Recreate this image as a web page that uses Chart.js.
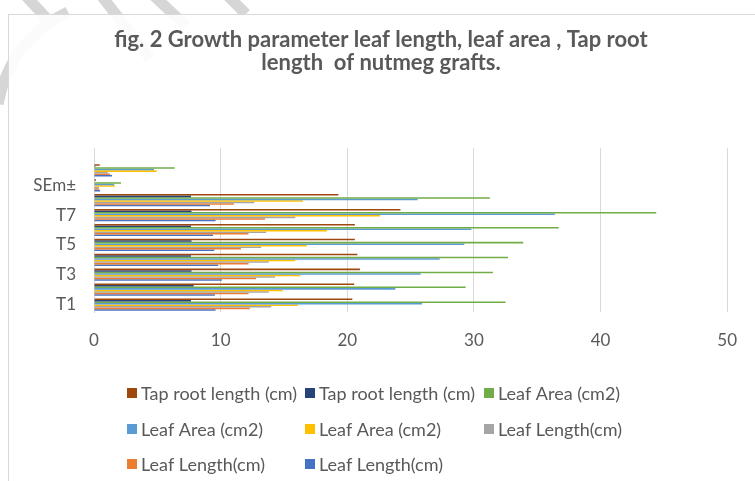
<!DOCTYPE html>
<html>
<head>
<meta charset="utf-8">
<script src="https://cdn.jsdelivr.net/npm/chart.js@4.4.1/dist/chart.umd.min.js"></script>
<style>
  html, body { margin: 0; padding: 0; background: #ffffff; overflow: hidden; }
  #wrap { position: absolute; left: 0; top: 0; width: 755px; height: 481px; }
</style>
</head>
<body>
<div id="wrap"><canvas id="c" width="755" height="481"></canvas></div>
<script>
// ---- data ----
const categories = ['T1', 'T2', 'T3', 'T4', 'T5', 'T6', 'T7', 'T8', 'SEm±', 'C.D. (5%)', ''];
const leafLength1 = [9.6, 9.55, 10.1, 9.8, 9.5, 9.4, 9.6, 9.16, 0.47, 1.42, null];
const leafLength2 = [12.3, 12.2, 12.8, 12.2, 11.6, 12.2, 13.5, 11.05, 0.39, 1.26, null];
const leafLength3 = [14.0, 13.8, 14.3, 13.8, 13.2, 13.6, 15.9, 12.66, 0.39, 1.08, null];
const leafArea1 = [16.1, 14.9, 16.3, 15.9, 16.8, 18.4, 22.6, 16.5, 1.65, 4.95, null];
const leafArea2 = [25.9, 23.8, 25.8, 27.3, 29.24, 29.8, 36.4, 25.56, 1.6, 4.74, null];
const leafArea3 = [32.5, 29.35, 31.5, 32.7, 33.9, 36.7, 44.4, 31.26, 2.13, 6.37, null];
const tapRoot1 = [7.66, 7.87, 7.7, 7.66, 7.7, 7.66, 7.7, 7.66, 0.05, 0.1, null];
const tapRoot2 = [20.4, 20.55, 21.0, 20.8, 20.6, 20.6, 24.2, 19.3, 0.16, 0.45, null];
const xTicks = [0, 10, 20, 30, 40, 50];
const titleLines = ['fig. 2 Growth parameter leaf length, leaf area , Tap root', 'length  of nutmeg grafts.'];

const TEXT = '#595959';
const FONT = 'Lato, "Open Sans", sans-serif';

const datasets = [
  { label: 'Tap root length (cm)', data: tapRoot2, backgroundColor: '#9E480E' },
  { label: 'Tap root length (cm)', data: tapRoot1, backgroundColor: '#264478' },
  { label: 'Leaf Area (cm2)', data: leafArea3, backgroundColor: '#70AD47' },
  { label: 'Leaf Area (cm2)', data: leafArea2, backgroundColor: '#5B9BD5' },
  { label: 'Leaf Area (cm2)', data: leafArea1, backgroundColor: '#FFC000' },
  { label: 'Leaf Length(cm)', data: leafLength3, backgroundColor: '#A5A5A5' },
  { label: 'Leaf Length(cm)', data: leafLength2, backgroundColor: '#ED7D31' },
  { label: 'Leaf Length(cm)', data: leafLength1, backgroundColor: '#4472C4' }
];

// background: faint watermark strokes, chart frame
const framePlugin = {
  id: 'frame',
  beforeDraw(chart) {
    const ctx = chart.ctx;
    ctx.save();
    ctx.strokeStyle = '#d6d6d6';
    ctx.lineCap = 'butt';
    ctx.lineWidth = 11;
    ctx.beginPath(); ctx.moveTo(24, -6); ctx.lineTo(50, 22); ctx.stroke();
    ctx.beginPath(); ctx.moveTo(100, -6); ctx.lineTo(150, 58); ctx.stroke();
    ctx.beginPath(); ctx.moveTo(152, -6); ctx.lineTo(186, 26); ctx.stroke();
    ctx.beginPath(); ctx.moveTo(226, -6); ctx.lineTo(246, 14); ctx.stroke();
    ctx.beginPath(); ctx.moveTo(68, 12); ctx.quadraticCurveTo(10, 40, -2, 104); ctx.stroke();
    ctx.fillStyle = 'rgba(255,255,255,0.9)';
    ctx.fillRect(8, 14, 760, 480);
    ctx.strokeStyle = '#d9d9d9';
    ctx.lineWidth = 1;
    ctx.strokeRect(8.5, 14.5, 760, 480);
    ctx.restore();
  }
};

// legend laid out in fixed columns like the original
const legendPlugin = {
  id: 'gridLegend',
  afterDraw(chart) {
    const ctx = chart.ctx;
    const colX = [127, 305, 484];
    const rowY = [393, 429, 464];
    ctx.save();
    ctx.font = '18px ' + FONT;
    ctx.textBaseline = 'middle';
    ctx.textAlign = 'left';
    chart.data.datasets.forEach((ds, i) => {
      const x = colX[i % 3], y = rowY[Math.floor(i / 3)];
      ctx.fillStyle = ds.backgroundColor;
      ctx.fillRect(x, y - 5, 10, 10);
      ctx.fillStyle = TEXT;
      ctx.fillText(ds.label, x + 14, y + 1);
    });
    ctx.restore();
  }
};

new Chart(document.getElementById('c'), {
  type: 'bar',
  data: { labels: categories, datasets: datasets },
  plugins: [framePlugin, legendPlugin],
  options: {
    indexAxis: 'y',
    responsive: false,
    animation: false,
    devicePixelRatio: 1,
    layout: { padding: { left: 31, right: 24, top: 0, bottom: 129 } },
    datasets: { bar: { barPercentage: 1.0, categoryPercentage: 0.82, borderWidth: 0 } },
    plugins: {
      legend: { display: false },
      tooltip: { enabled: false },
      title: {
        display: true,
        text: titleLines,
        color: TEXT,
        font: { family: FONT, size: 22, weight: 'bold', lineHeight: '23px' },
        padding: { top: 28, bottom: 74 }
      }
    },
    scales: {
      x: {
        min: 0, max: 50,
        afterBuildTicks(scale) { scale.ticks = xTicks.map(v => ({ value: v })); },
        afterFit(scale) { scale.height = 40; },
        grid: { color: '#d9d9d9', lineWidth: 1, drawTicks: false },
        border: { display: false },
        ticks: { color: TEXT, font: { family: FONT, size: 17 }, padding: 18 }
      },
      y: {
        reverse: true,
        afterFit(scale) { scale.width = 63; },
        grid: { display: false, drawTicks: false },
        border: { display: true, color: '#d9d9d9', width: 1 },
        ticks: {
          autoSkip: false,
          color: TEXT,
          font: { family: FONT, size: 17 },
          padding: 18,
          callback(value, index) { return index % 2 === 0 ? this.getLabelForValue(value) : ''; }
        }
      }
    }
  }
});
</script>
</body>
</html>
